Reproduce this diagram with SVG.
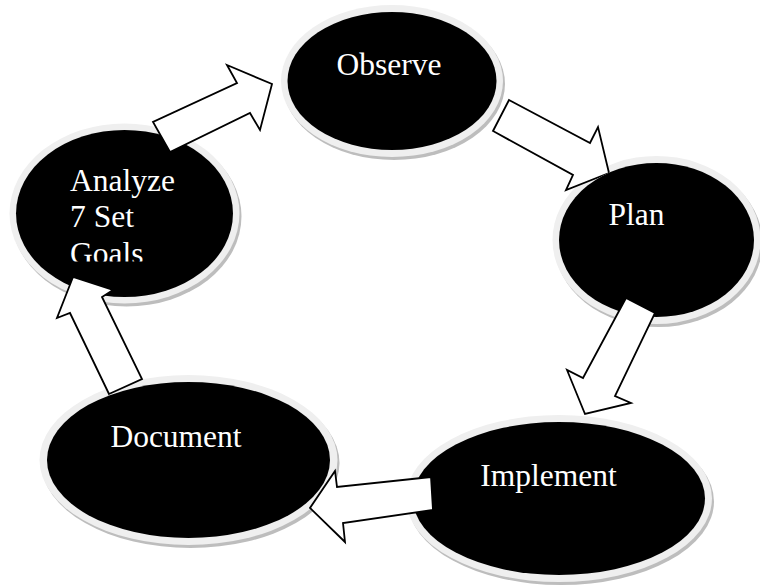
<svg xmlns="http://www.w3.org/2000/svg" width="760" height="587" viewBox="0 0 760 587">
<style>
.shadow{fill:#bdbdbd}
.ring{fill:#efefef}
.core{fill:#000}
.lbl{font-size:31.5px;fill:#fff}
.arrow{fill:#fff;stroke:#000;stroke-width:1.8;stroke-linejoin:miter}
</style>
<defs>
<clipPath id="clipAnalyze"><rect x="0" y="0" width="760" height="261.5"/></clipPath>
<mask id="cutPlan" maskUnits="userSpaceOnUse" x="0" y="0" width="760" height="587">
<rect x="0" y="0" width="760" height="587" fill="#fff"/>
<ellipse cx="656.5" cy="240" rx="97.5" ry="77" fill="#000"/>
</mask>
</defs>
<rect width="760" height="587" fill="#fff"/>
<g id="node-observe">
<ellipse class="shadow" cx="394" cy="84" rx="111" ry="76"/>
<ellipse class="ring" cx="392" cy="81" rx="111" ry="76"/>
<ellipse class="core" cx="392" cy="81" rx="104.5" ry="69"/>
<text class="lbl" font-family="Liberation Serif, Times New Roman, DejaVu Serif, serif" x="389" y="75" text-anchor="middle">Observe</text>
</g>
<g id="node-plan">
<ellipse class="shadow" cx="658.5" cy="243" rx="104" ry="84"/>
<ellipse class="ring" cx="656.5" cy="240" rx="104" ry="84"/>
<ellipse class="core" cx="656.5" cy="240" rx="97.5" ry="77"/>
<text class="lbl" font-family="Liberation Serif, Times New Roman, DejaVu Serif, serif" x="636.5" y="225" text-anchor="middle">Plan</text>
</g>
<g id="node-implement">
<ellipse class="shadow" cx="561" cy="501.5" rx="153" ry="83.5"/>
<ellipse class="ring" cx="559" cy="498.5" rx="153" ry="83.5"/>
<ellipse class="core" cx="559" cy="498.5" rx="146" ry="76.5"/>
<text class="lbl" font-family="Liberation Serif, Times New Roman, DejaVu Serif, serif" x="548.5" y="486" text-anchor="middle">Implement</text>
</g>
<g id="node-document">
<ellipse class="shadow" cx="190.5" cy="463" rx="149" ry="85"/>
<ellipse class="ring" cx="188.5" cy="460" rx="149" ry="85"/>
<ellipse class="core" cx="188.5" cy="460" rx="141.5" ry="78"/>
<text class="lbl" font-family="Liberation Serif, Times New Roman, DejaVu Serif, serif" x="176" y="447" text-anchor="middle">Document</text>
</g>
<g id="node-analyze">
<ellipse class="shadow" cx="126.5" cy="216.5" rx="115" ry="90"/>
<ellipse class="ring" cx="124.5" cy="213.5" rx="115" ry="90"/>
<ellipse class="core" cx="124.5" cy="213.5" rx="108.5" ry="83.5"/>
<g clip-path="url(#clipAnalyze)" font-family="Liberation Serif, Times New Roman, DejaVu Serif, serif">
<text class="lbl" x="70" y="191">Analyze</text>
<text class="lbl" x="70" y="227">7 Set</text>
<text class="lbl" x="70" y="264">Goals</text>
</g>
</g>
<g id="connectors">
<polygon class="arrow" mask="url(#cutPlan)" points="509,100 590,143 598,127 609,173 566,190 573,175 493,131"/>
<polygon class="arrow" points="655,313 626,298 583,378 567,370 585,414 631,403 615,396"/>
<polygon class="arrow" points="431,477 337,487 335,471 310,508 345,542 343,523 433,510"/>
<polygon class="arrow" points="109,394 142,379 102,297 113,290 73,277 57,318 70,313"/>
<polygon class="arrow" points="170,152 153,122 237,83 227,65 272,84 260,130 250,113"/>
</g>
</svg>
